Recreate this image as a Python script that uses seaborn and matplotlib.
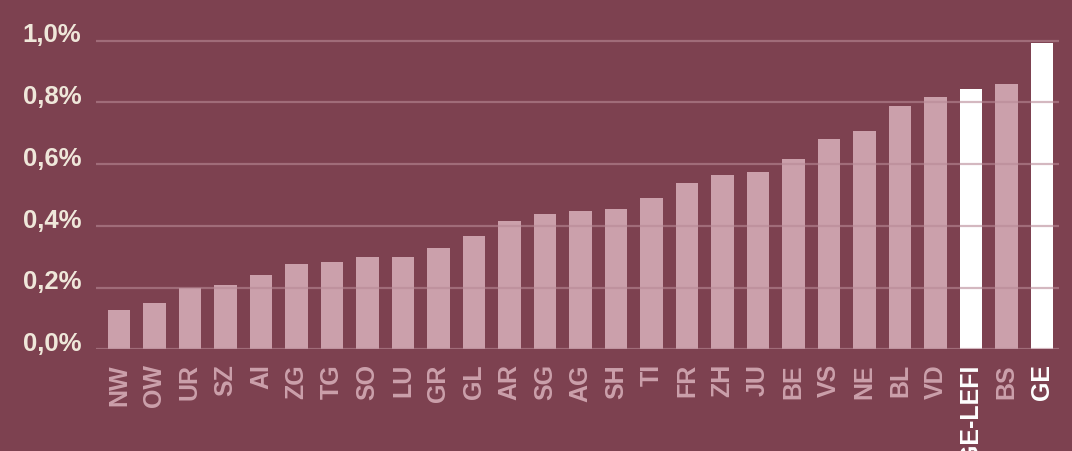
import matplotlib
matplotlib.use("Agg")
import matplotlib.pyplot as plt
import matplotlib.transforms as mtransforms
import seaborn as sns
import pandas as pd

cantons = ["NW", "OW", "UR", "SZ", "AI", "ZG", "TG", "SO", "LU", "GR", "GL", "AR", "SG",
           "AG", "SH", "TI", "FR", "ZH", "JU", "BE", "VS", "NE", "BL", "VD", "GE-LEFI", "BS", "GE"]
values = [0.128, 0.150, 0.200, 0.209, 0.241, 0.277, 0.283, 0.300, 0.300, 0.329, 0.368, 0.417, 0.439,
          0.449, 0.455, 0.491, 0.540, 0.566, 0.576, 0.618, 0.680, 0.706, 0.787, 0.816, 0.845, 0.861, 0.994]
highlight = ["GE-LEFI", "GE"]
yticks = [0.0, 0.2, 0.4, 0.6, 0.8, 1.0]
ytick_labels = ["0,0%", "0,2%", "0,4%", "0,6%", "0,8%", "1,0%"]

BG = "#7D4150"
BAR = "#CBA0AB"
HL = "#FFFFFF"
GRID = "#B88A96"
YTXT = "#EFE7DA"

sns.set_theme(style="white")
plt.rcParams["font.family"] = ["Liberation Sans", "DejaVu Sans"]

df = pd.DataFrame({"canton": cantons, "value": values})
palette = {c: (HL if c in highlight else BAR) for c in cantons}

W, H = 1072, 452
fig = plt.figure(figsize=(W / 100, H / 100), dpi=100, facecolor=BG)
x0_px, x1_px = 96, 1059
y0_px, y1_px = 350.3, 41.7
ytop = 1.05
unit_px = (y0_px - y1_px) / 1.0
ax = fig.add_axes([x0_px / W, (H - y0_px) / H, (x1_px - x0_px) / W, ytop * unit_px / H])
ax.set_facecolor(BG)

sns.barplot(data=df, x="canton", y="value", hue="canton", palette=palette,
            width=0.62, legend=False, ax=ax, saturation=1, zorder=1, linewidth=0)

centre0, step = 119, 35.5
ax.set_xlim((x0_px - centre0) / step, (x1_px - centre0) / step)
ax.set_ylim(0, ytop)
ax.set_yticks(yticks)
ax.set_yticklabels(ytick_labels)
ax.set_xlabel("")
ax.set_ylabel("")

ax.set_axisbelow(False)
ax.yaxis.grid(True, color=GRID, alpha=0.6, linewidth=1.6)
ax.xaxis.grid(False)
for s in ax.spines.values():
    s.set_visible(False)

ax.tick_params(axis="y", length=0, pad=10.5, labelsize=18.5, labelcolor=YTXT)
ax.tick_params(axis="x", length=0, pad=10, labelsize=18, labelrotation=90)

offset = mtransforms.ScaledTranslation(0, -0.5 / 72, fig.dpi_scale_trans)
for lab in ax.get_yticklabels():
    lab.set_fontweight("bold")
    lab.set_va("baseline")
    lab.set_transform(lab.get_transform() + offset)

for lab in ax.get_xticklabels():
    lab.set_fontweight("bold")
    lab.set_color(HL if lab.get_text() in highlight else BAR)

fig.savefig("out.png", dpi=100, facecolor=BG)
